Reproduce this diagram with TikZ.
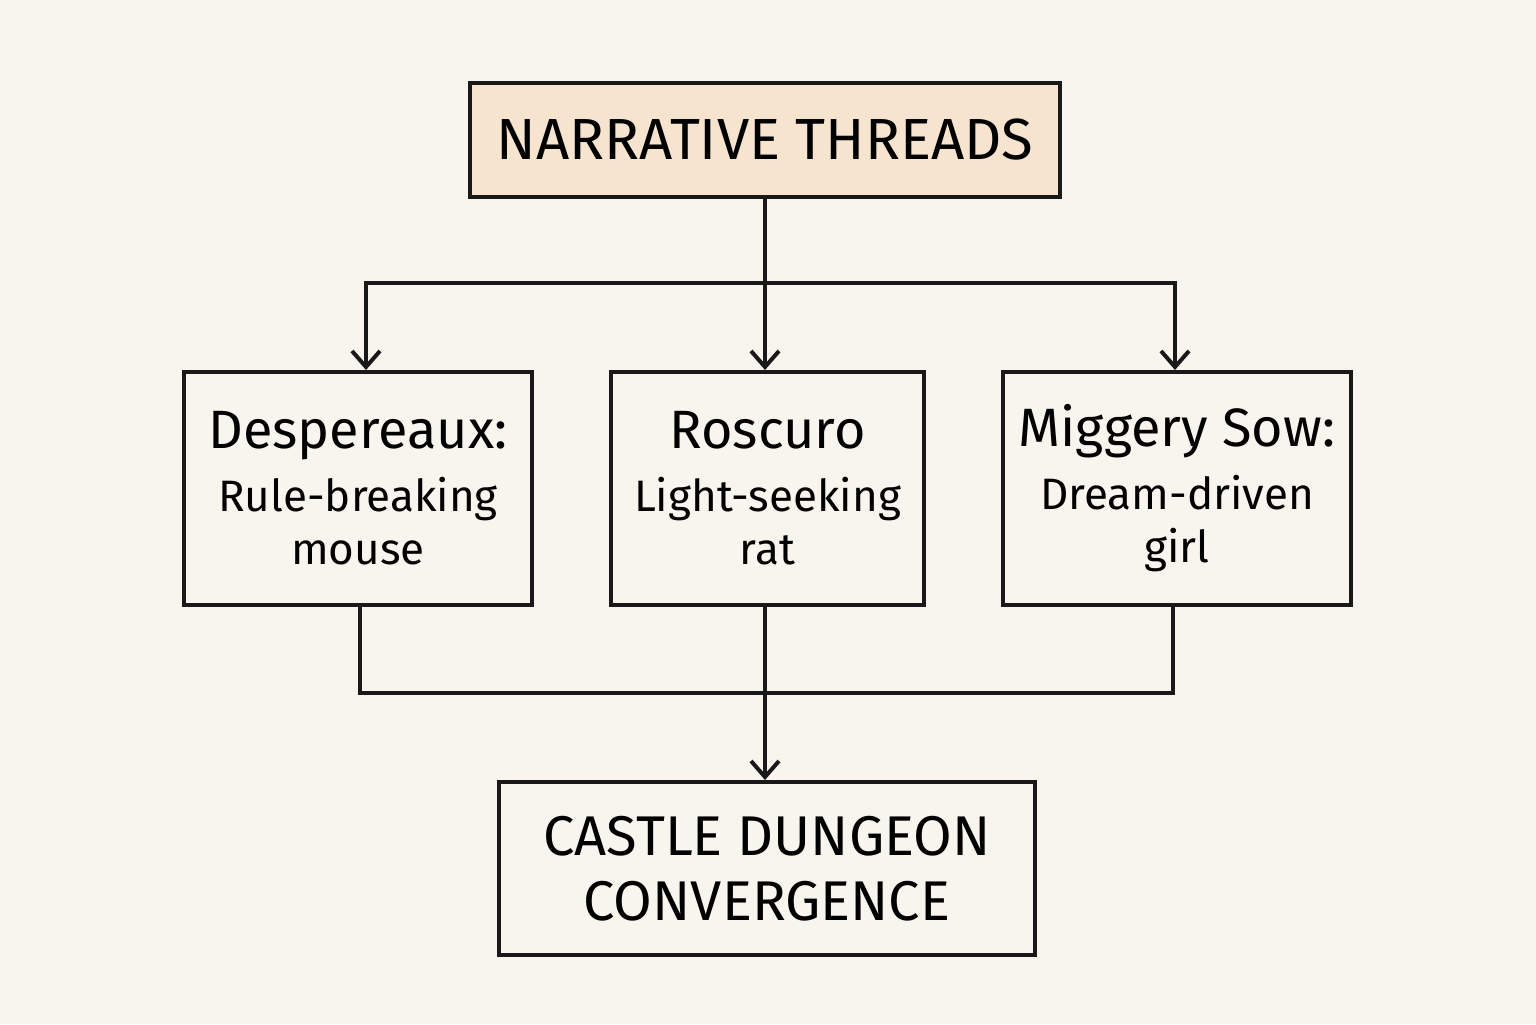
\documentclass[tikz,border=0pt]{standalone}
\usepackage{fontspec}
\setmainfont{Fira Sans}
\usetikzlibrary{arrows.meta}
\definecolor{bg}{HTML}{F8F5EF}
\definecolor{peach}{HTML}{F7E4CF}
\begin{document}
\begin{tikzpicture}[x=0.5pt,y=-0.5pt,
  box/.style={draw=black!90,line width=2pt,align=center,inner sep=0pt},
  sub/.style={font=\fontsize{22}{26.5}\selectfont},
  ln/.style={line width=2pt,draw=black!90},
  arr/.style={ln,-{Straight Barb[length=8pt,width=14pt,line width=2pt]}}]
\fill[bg] (0,0) rectangle (1536,1024);
\useasboundingbox (0,0) rectangle (1536,1024);
\node[box,fill=peach,minimum width=295pt,minimum height=57pt,font=\fontsize{29}{34}\selectfont] (top) at (765,140) {NARRATIVE THREADS};
\node[box,sub,minimum width=174pt,minimum height=116.5pt] (d) at (358,488.5) {{\fontsize{27}{30}\selectfont Despereaux:}\\[5pt]Rule-breaking\\mouse};
\node[box,sub,minimum width=156.5pt,minimum height=116.5pt] (r) at (767.5,488.5) {{\fontsize{27}{30}\selectfont Roscuro}\\[5pt]Light-seeking\\rat};
\node[box,sub,minimum width=174pt,minimum height=116.5pt] (m) at (1177,488.5) {{\fontsize{27}{30}\selectfont Miggery Sow:}\\[5pt]Dream-driven\\girl};
\node[box,minimum width=268pt,minimum height=86.5pt,font=\fontsize{28}{32.5}\selectfont] (c) at (767,868.5) {CASTLE DUNGEON\\CONVERGENCE};
\coordinate (j1) at (765,283);
\draw[ln] (top.south) -- (j1);
\draw[arr] (j1) -| ([xshift=4pt]d.north);
\draw[arr] (j1) -- (765,370);
\draw[arr] (j1) -| ([xshift=-1pt]m.north);
\coordinate (j2) at (765,693);
\draw[ln] ([xshift=1pt]d.south) |- (j2);
\draw[ln] ([xshift=-2pt]m.south) |- (j2);
\draw[arr] (r.south -| j2) -- (c.north -| j2);
\end{tikzpicture}
\end{document}
